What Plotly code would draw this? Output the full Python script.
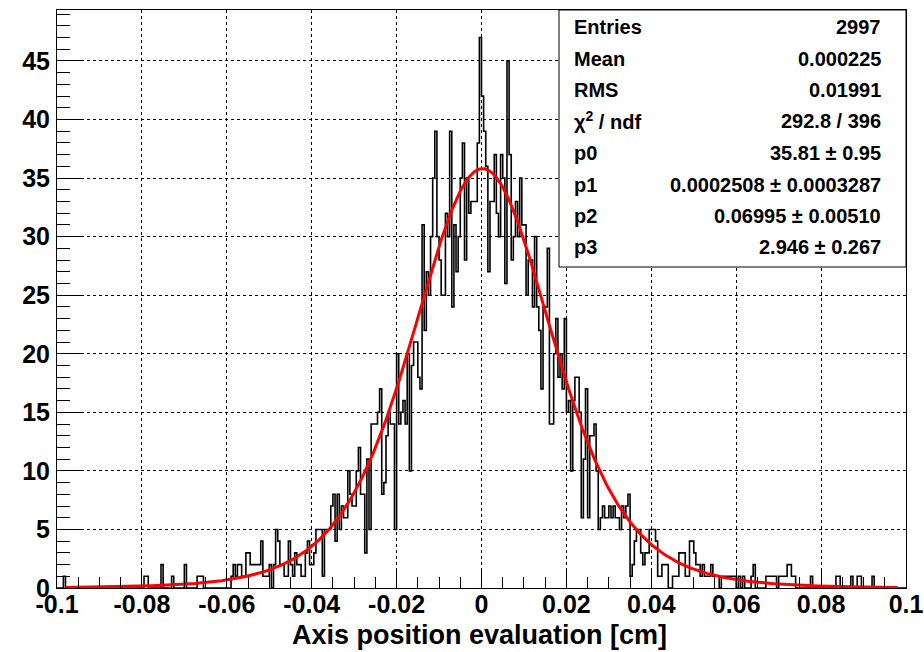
import numpy as np
import plotly.graph_objects as go

# Histogram binning: 400 bins over [-0.1, 0.1] cm
x_min, x_max, n_bins = -0.1, 0.1, 400

# Bin contents, 20 bins per row, left to right
counts = [
    0, 0, 0, 1, 0, 0, 0, 0, 0, 0, 0, 0, 0, 0, 0, 0, 0, 0, 0, 0,
    0, 0, 0, 0, 0, 0, 0, 0, 0, 0, 0, 0, 0, 0, 0, 0, 0, 0, 0, 0,
    0, 1, 1, 0, 0, 0, 0, 0, 0, 2, 0, 0, 0, 0, 1, 0, 0, 0, 0, 0,
    2, 0, 0, 0, 0, 0, 1, 1, 1, 0, 0, 0, 0, 0, 0, 0, 0, 0, 0, 0,
    0, 0, 1, 2, 1, 2, 2, 1, 1, 3, 3, 2, 2, 2, 2, 2, 4, 1, 1, 1,
    2, 0, 2, 5, 4, 2, 2, 1, 1, 4, 2, 1, 3, 2, 2, 1, 1, 3, 4, 2,
    2, 3, 5, 5, 5, 1, 5, 5, 5, 7, 8, 4, 8, 5, 7, 6, 6, 10, 8, 7,
    7, 10, 12, 8, 8, 3, 11, 5, 14, 14, 14, 15, 17, 8, 9, 13, 15, 14, 14, 5,
    20, 14, 15, 16, 14, 20, 10, 19, 21, 21, 18, 17, 31, 22, 27, 25, 30, 35, 39, 30,
    28, 25, 25, 32, 30, 39, 24, 31, 27, 30, 35, 38, 28, 35, 32, 33, 33, 33, 38, 47,
    42, 39, 36, 27, 33, 33, 37, 32, 30, 37, 35, 26, 45, 37, 28, 30, 33, 30, 35, 31,
    31, 25, 28, 28, 24, 30, 24, 22, 17, 24, 24, 29, 14, 14, 20, 23, 18, 20, 17, 23,
    15, 16, 10, 16, 18, 18, 15, 6, 11, 17, 6, 13, 13, 14, 10, 5, 6, 7, 6, 6,
    7, 6, 7, 6, 6, 5, 7, 6, 7, 8, 1, 2, 4, 5, 5, 3, 2, 3, 3, 5,
    5, 5, 4, 1, 1, 2, 2, 2, 0, 0, 1, 1, 1, 3, 3, 3, 1, 1, 4, 4,
    3, 2, 2, 1, 2, 1, 1, 1, 2, 1, 1, 1, 0, 1, 1, 1, 1, 1, 1, 1,
    0, 1, 0, 1, 0, 0, 0, 1, 2, 0, 0, 0, 0, 0, 1, 1, 1, 1, 1, 0,
    1, 1, 1, 1, 2, 2, 1, 1, 0, 0, 0, 0, 0, 0, 0, 1, 0, 0, 0, 0,
    0, 0, 0, 0, 0, 0, 0, 1, 1, 0, 0, 0, 0, 0, 1, 0, 0, 1, 1, 0,
    0, 0, 0, 0, 1, 0, 0, 0, 0, 0, 0, 0, 0, 0, 0, 0, 0, 0, 0, 0,
]

# Axis ticks and title
x_ticks = [-0.1, -0.08, -0.06, -0.04, -0.02, 0.0, 0.02, 0.04, 0.06, 0.08, 0.1]
x_tick_labels = ["-0.1", "-0.08", "-0.06", "-0.04", "-0.02", "0",
                 "0.02", "0.04", "0.06", "0.08", "0.1"]
y_ticks = [0, 5, 10, 15, 20, 25, 30, 35, 40, 45]
x_title = "Axis position evaluation [cm]"

# Statistics / fit box
stat_labels = ["Entries", "Mean", "RMS", "χ<sup>2</sup> / ndf", "p0", "p1", "p2", "p3"]
stat_values = ["2997", "0.000225", "0.01991", "292.8 / 396",
               "35.81 ± 0.95", "0.0002508 ± 0.0003287",
               "0.06995 ± 0.00510", "2.946 ± 0.267"]

# Fit: amplitude and centre from the fit box; peak shape of the fitted line
fit_p0 = 35.81
fit_p1 = 0.0002508
shape_width = 0.017
shape_nu = 6.0

edges = np.linspace(x_min, x_max, n_bins + 1)
step_x = np.concatenate([[edges[0]], edges[:-1], [edges[-1]]])
step_y = np.concatenate([[0], counts, [0]])

xf = np.linspace(-0.098, 0.098, 800)
yf = fit_p0 * (1 + ((xf - fit_p1) / shape_width) ** 2 / shape_nu) ** (-(shape_nu + 1) / 2)

fig = go.Figure()
fig.add_trace(go.Scatter(x=step_x, y=step_y, mode="lines", line_shape="hv",
                         line=dict(color="black", width=1.6), hoverinfo="skip"))
fig.add_trace(go.Scatter(x=xf, y=yf, mode="lines",
                         line=dict(color="#ff0000", width=3), hoverinfo="skip"))

FONT = "Liberation Sans, Arial, Helvetica, sans-serif"
y_top = max(counts) * 1.05

# Frame geometry in pixels
L, R, T, B = 57, 906, 10, 588
W, H = R - L, B - T

fig.update_layout(
    width=924, height=652,
    margin=dict(l=L, r=924 - R, t=T, b=652 - B, autoexpand=False),
    paper_bgcolor="white", plot_bgcolor="white",
    showlegend=False,
    font=dict(family=FONT, color="black"),
    xaxis=dict(
        range=[x_min, x_max], tickvals=x_ticks, ticktext=x_tick_labels,
        automargin=False,
        ticks="inside", ticklen=17, tickwidth=1, tickcolor="black",
        showline=True, linecolor="black", linewidth=1, mirror=True,
        showgrid=True, gridcolor="black", griddash="dot", gridwidth=1,
        zeroline=False,
        minor=dict(dtick=0.005, tick0=0, ticks="inside", ticklen=11,
                   tickcolor="black", tickwidth=1, showgrid=False),
        tickfont=dict(family=FONT, size=25, weight="bold"),
        ticklabelstandoff=-6,
        ticklabeloverflow="allow",
    ),
    yaxis=dict(
        range=[0, y_top], tickvals=y_ticks,
        automargin=False,
        ticks="inside", ticklen=25, tickwidth=1, tickcolor="black",
        showline=True, linecolor="black", linewidth=1, mirror=True,
        showgrid=True, gridcolor="black", griddash="dot", gridwidth=1,
        zeroline=False,
        minor=dict(dtick=1, tick0=0, ticks="inside", ticklen=12.5,
                   tickcolor="black", tickwidth=1, showgrid=False),
        tickfont=dict(family=FONT, size=25, weight="bold"),
        ticklabelstandoff=1,
        ticklabeloverflow="allow",
    ),
)

# X-axis title below the tick labels
fig.add_annotation(x=(479 - L) / W, y=(B - 635) / H, xref="paper", yref="paper",
                   text=x_title, showarrow=False, xanchor="center", yanchor="middle",
                   font=dict(family=FONT, size=27, weight="bold"))

# Statistics box in the top-right corner of the frame
fig.add_shape(type="rect", xref="paper", yref="paper",
              x0=(559 - L) / W, x1=1.0, y0=(B - 267) / H, y1=1.0,
              line=dict(color="black", width=1), fillcolor="white", layer="above")

row_px = [27, 59, 90, 121, 153, 185, 216, 247]
for lab, val, ypx in zip(stat_labels, stat_values, row_px):
    yp = (B - ypx) / H
    fig.add_annotation(x=(572 - L) / W, y=yp, xref="paper", yref="paper",
                       text=lab, showarrow=False, xanchor="left", yanchor="middle",
                       font=dict(family=FONT, size=20, weight="bold"))
    fig.add_annotation(x=(883 - L) / W, y=yp, xref="paper", yref="paper",
                       text=val, showarrow=False, xanchor="right", yanchor="middle",
                       font=dict(family=FONT, size=20, weight="bold"))

fig.write_html("out.html")
